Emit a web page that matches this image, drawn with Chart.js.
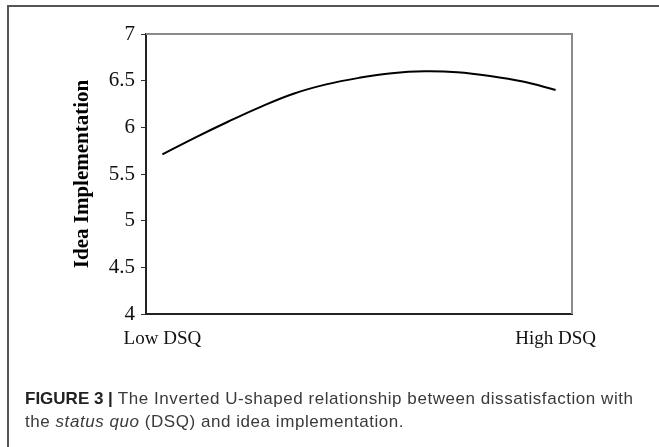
<!DOCTYPE html>
<html>
<head>
<meta charset="utf-8">
<script src="https://cdn.jsdelivr.net/npm/chart.js@4/dist/chart.umd.min.js"></script>
<style>
  html, body { margin: 0; padding: 0; background: #fff; }
  #wrap { position: relative; width: 659px; height: 447px; overflow: hidden; }
  #frameTop { position: absolute; left: 7px; top: 5px; width: 652px; height: 2px; background: #555; }
  #frameLeft { position: absolute; left: 7px; top: 5px; width: 2px; height: 442px; background: #555; }
  #chart { position: absolute; left: 0; top: 0; }
  #caption {
    position: absolute; left: 25px; top: 387px; width: 634px; white-space: nowrap;
    font-family: "Liberation Sans", Arial, sans-serif; font-size: 17px; line-height: 23px;
    letter-spacing: 0.55px; color: #3a3a3a;
  }
  #caption b { color: #222; letter-spacing: 0; }
</style>
</head>
<body>
<div id="wrap">
  <div id="frameTop"></div>
  <div id="frameLeft"></div>
  <canvas id="chart" width="659" height="447"></canvas>
  <div id="caption"><b>FIGURE 3 |</b> The Inverted U-shaped relationship between dissatisfaction with<br>the <i>status quo</i> (DSQ) and idea implementation.</div>
</div>
<script>
const categories = ["Low DSQ", "", "", "", "", "", "", "", "", "", "", "", "High DSQ"];
const ideaImplementation = [5.71, 5.89, 6.06, 6.22, 6.36, 6.46, 6.53, 6.58, 6.60, 6.59, 6.55, 6.49, 6.40];
const yTicks = [4, 4.5, 5, 5.5, 6, 6.5, 7];

const boxEdges = {
  id: "boxEdges",
  beforeDatasetsDraw(chart) {
    const { ctx, chartArea: a } = chart;
    ctx.save();
    ctx.strokeStyle = "#8a8a8a";
    ctx.lineWidth = 2;
    ctx.beginPath();
    ctx.moveTo(a.left, a.top);
    ctx.lineTo(a.right, a.top);
    ctx.lineTo(a.right, a.bottom);
    ctx.stroke();
    ctx.restore();
  },
};

new Chart(document.getElementById("chart"), {
  type: "line",
  data: {
    labels: categories,
    datasets: [{
      data: ideaImplementation,
      borderColor: "#000",
      borderWidth: 2,
      pointRadius: 0,
      fill: false,
      tension: 0.4,
    }],
  },
  options: {
    responsive: false,
    animation: false,
    layout: { padding: { left: 0, top: 34, right: 87, bottom: 93 } },
    plugins: { legend: { display: false }, tooltip: { enabled: false } },
    scales: {
      x: {
        offset: true,
        grid: { display: false, drawTicks: false },
        border: { color: "#222", width: 2 },
        ticks: {
          autoSkip: false, maxRotation: 0, padding: 14, color: "#111",
          font: { family: "Liberation Serif", size: 19 },
        },
        afterFit(scale) { scale.height = 40; },
      },
      y: {
        min: 4, max: 7,
        afterBuildTicks(scale) { scale.ticks = yTicks.map((v) => ({ value: v })); },
        grid: { drawOnChartArea: false, drawTicks: true, tickLength: 5, color: "#333" },
        border: { color: "#222", width: 2 },
        ticks: {
          padding: 6, color: "#111",
          font: { family: "Liberation Serif", size: 21 },
          callback: (v) => String(v),
        },
        title: {
          display: true, text: "Idea Implementation", color: "#000",
          font: { family: "Liberation Serif", size: 21, weight: "bold" },
          padding: { top: 70, bottom: 0 },
        },
        afterFit(scale) { scale.width = 146; },
      },
    },
  },
  plugins: [boxEdges],
});
</script>
</body>
</html>
